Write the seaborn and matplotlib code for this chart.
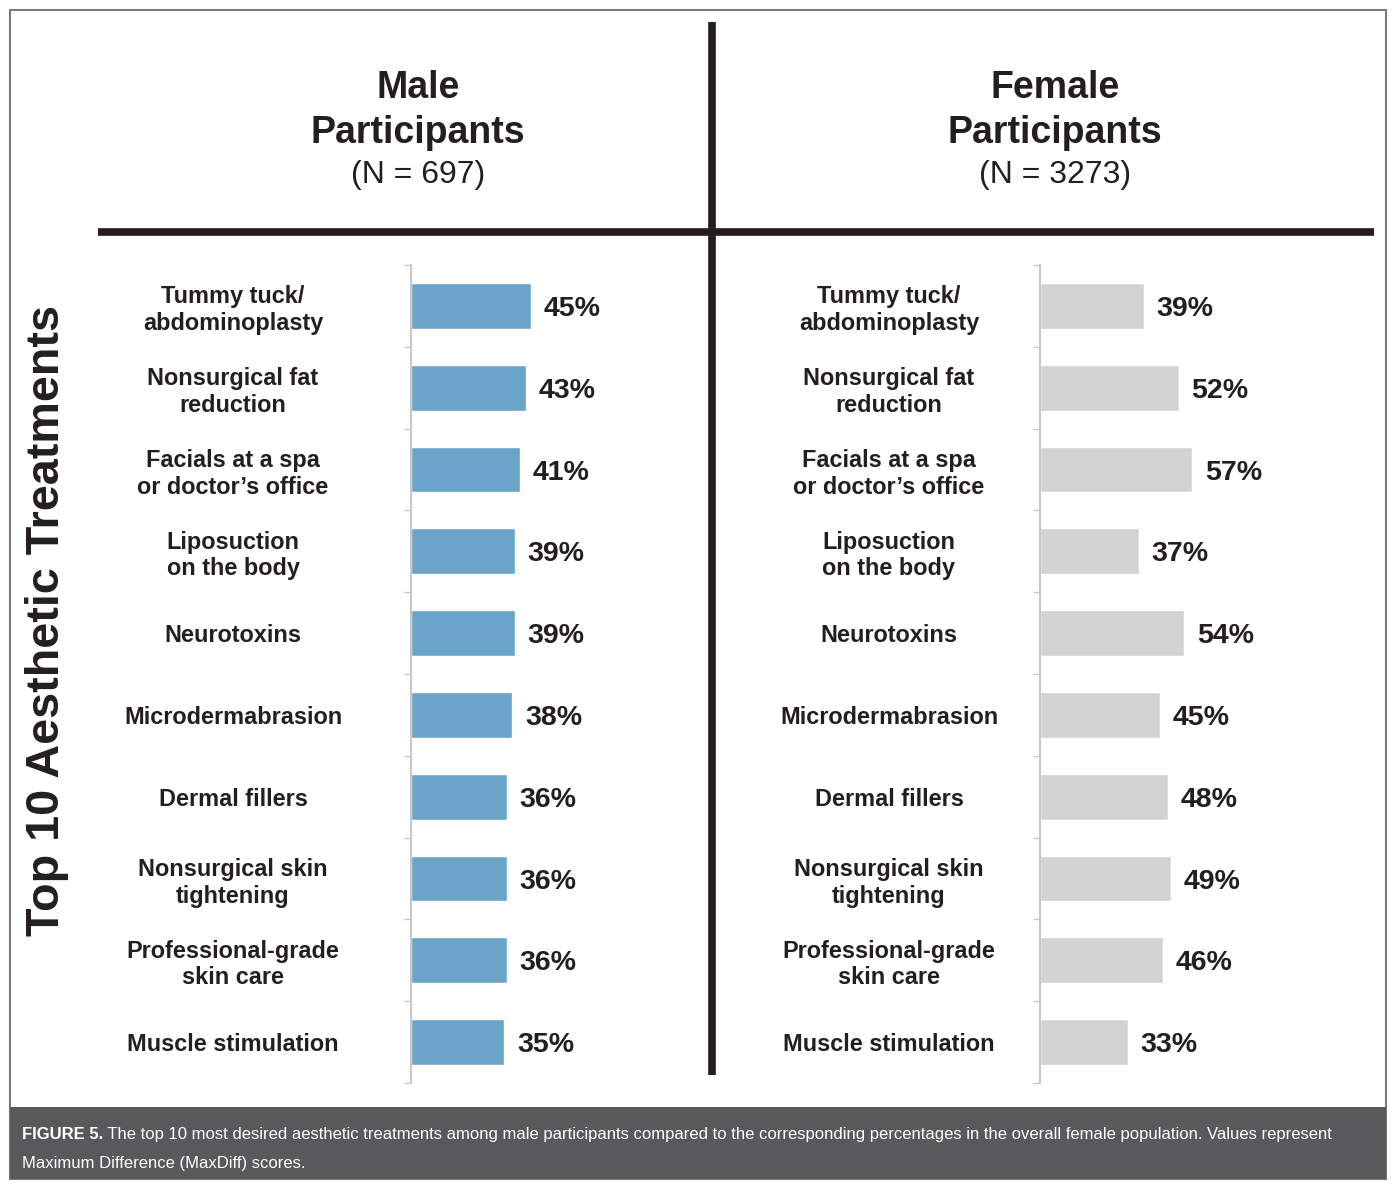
import matplotlib
matplotlib.use('Agg')
import matplotlib.pyplot as plt
import seaborn as sns
import pandas as pd
from matplotlib.patches import Rectangle
from matplotlib.lines import Line2D

treatments = [
    'Tummy tuck/\nabdominoplasty',
    'Nonsurgical fat\nreduction',
    'Facials at a spa\nor doctor\u2019s office',
    'Liposuction\non the body',
    'Neurotoxins',
    'Microdermabrasion',
    'Dermal fillers',
    'Nonsurgical skin\ntightening',
    'Professional-grade\nskin care',
    'Muscle stimulation',
]
male_pct = [45, 43, 41, 39, 39, 38, 36, 36, 36, 35]
female_pct = [39, 52, 57, 37, 54, 45, 48, 49, 46, 33]

male_title = 'Male\nParticipants'
female_title = 'Female\nParticipants'
male_n = '(N = 697)'
female_n = '(N = 3273)'
side_label = 'Top 10 Aesthetic Treatments'
caption_bold = 'FIGURE 5.'
caption_text = (' The top 10 most desired aesthetic treatments among male participants compared to the '
                'corresponding percentages in the overall female population. Values represent')
caption_line2 = 'Maximum Difference (MaxDiff) scores.'

sns.set_style('white')
plt.rcParams['font.family'] = ['Liberation Sans', 'DejaVu Sans']

W, H = 1400, 1189
dark = '#231f20'
fig = plt.figure(figsize=(W / 100, H / 100), dpi=100)


def px_axes(left, top, right, bottom):
    return fig.add_axes([left / W, 1 - bottom / H, (right - left) / W, (bottom - top) / H])


# frame and caption band
overlay = fig.add_axes([0, 0, 1, 1])
overlay.set_xlim(0, W)
overlay.set_ylim(H, 0)
overlay.axis('off')
overlay.add_patch(Rectangle((10, 10), 1376, 1169, fill=False, edgecolor='#7a7a7a', lw=1.5))
overlay.add_patch(Rectangle((10, 1107), 1376, 72, facecolor='#58595b', edgecolor='none'))
overlay.add_line(Line2D([98, 1374], [232, 232], color=dark, lw=5.5, solid_capstyle='butt'))
overlay.add_line(Line2D([712, 712], [22, 1075], color=dark, lw=5.5, solid_capstyle='butt'))

# headers
overlay.text(418, 143, male_title, ha='center', va='baseline', fontsize=27,
             fontweight='bold', color=dark, linespacing=1.32)
overlay.text(418, 183, male_n, ha='center', va='baseline', fontsize=23, color=dark)
overlay.text(1055, 143, female_title, ha='center', va='baseline', fontsize=27,
             fontweight='bold', color=dark, linespacing=1.32)
overlay.text(1055, 183, female_n, ha='center', va='baseline', fontsize=23, color=dark)
overlay.text(47, 620, side_label, ha='center', va='center', rotation=90,
             fontsize=33.7, fontweight='bold', color=dark)

# caption, sized so the first line ends near x = 1328
inv = overlay.transData.inverted()


def caption(size):
    a = overlay.text(22, 1139, caption_bold, ha='left', va='baseline', fontsize=size,
                     fontweight='bold', color='white')
    fig.canvas.draw()
    x_next = inv.transform((a.get_window_extent().x1, 0))[0]
    b = overlay.text(x_next, 1139, caption_text, ha='left', va='baseline', fontsize=size,
                     color='white')
    c = overlay.text(22, 1168, caption_line2, ha='left', va='baseline', fontsize=size,
                     color='white')
    fig.canvas.draw()
    end = inv.transform((b.get_window_extent().x1, 0))[0]
    return [a, b, c], end


texts, end = caption(13)
size = 13 * (1328 - 22) / (end - 22)
for t in texts:
    t.remove()
texts, end = caption(size)


def draw_panel(ax, values, color, label_pad_px):
    df = pd.DataFrame({'treatment': treatments, 'pct': values})
    sns.barplot(data=df, y='treatment', x='pct', orient='h', color=color,
                width=0.56, saturation=1, ax=ax)
    ax.set_xlim(0, 100)
    ax.set_ylim(9.5, -0.5)
    ax.set_xlabel('')
    ax.set_ylabel('')
    ax.set_xticks([])
    for s in ['top', 'right', 'bottom']:
        ax.spines[s].set_visible(False)
    ax.spines['left'].set_color('#c8c8c8')
    ax.spines['left'].set_linewidth(1.5)
    ax.set_yticks([i - 0.5 for i in range(11)], minor=True)
    ax.tick_params(axis='y', which='minor', length=5, width=1, color='#c8c8c8', left=True)
    ax.tick_params(axis='y', which='major', length=0, pad=label_pad_px * 0.72,
                   labelsize=16.9, labelcolor=dark)
    for lab in ax.get_yticklabels():
        lab.set_ha('center')
        lab.set_fontweight('bold')
    anns = ax.bar_label(ax.containers[0], labels=[f'{v}%' for v in values], padding=9,
                        fontsize=20.5, fontweight='bold', color=dark)
    for a in anns:
        a.set_va('center_baseline')
    ax.patch.set_alpha(0)


ax_m = px_axes(411, 265, 678, 1083)
draw_panel(ax_m, male_pct, '#6aa5c9', 178)
ax_f = px_axes(1040, 265, 1307, 1083)
draw_panel(ax_f, female_pct, '#d3d3d3', 151)

fig.savefig('out.png', dpi=100)
